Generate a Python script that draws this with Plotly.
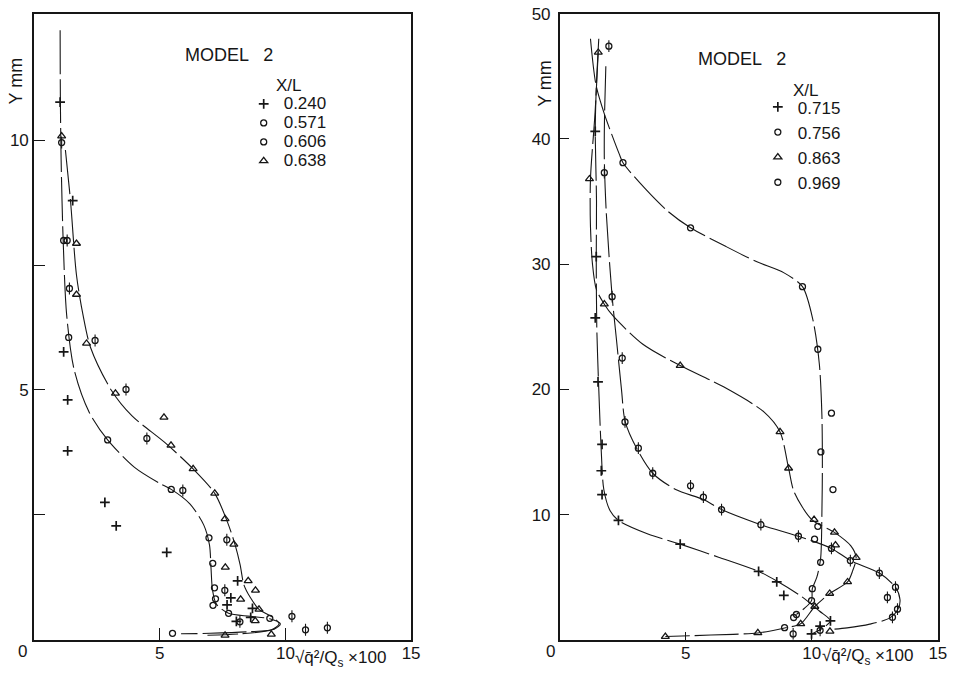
import plotly.graph_objects as go

# ---------------- LEFT PANEL (MODEL 2) ----------------
# X/L = 0.240  (+)
L240_x = [1.04, 1.54, 1.18, 1.34, 1.34, 2.82, 3.27, 5.28, 8.10, 7.83, 7.68, 8.69, 8.62, 8.05]
L240_y = [10.76, 8.79, 5.76, 4.80, 3.78, 2.75, 2.28, 1.75, 1.18, 0.84, 0.70, 0.63, 0.45, 0.37]
# X/L = 0.571  (o)
L571_x = [1.18, 1.38, 2.93, 5.46, 6.96, 7.11, 7.18, 7.22, 7.12, 7.74, 9.38, 5.51]
L571_y = [7.99, 6.05, 4.00, 3.01, 2.04, 1.53, 1.04, 0.82, 0.69, 0.53, 0.43, 0.13]
# X/L = 0.606  (circle with stem)
L606_x = [1.10, 1.32, 1.41, 2.43, 3.66, 4.49, 5.92, 7.67, 7.59, 8.19, 10.26, 10.80, 11.67]
L606_y = [9.95, 7.99, 7.03, 5.99, 5.01, 4.03, 2.99, 2.00, 0.99, 0.36, 0.47, 0.20, 0.24]
# X/L = 0.638  (triangle)
L638_x = [1.10, 1.69, 1.69, 2.09, 3.24, 5.17, 5.45, 6.33, 7.19, 7.60, 7.95, 7.61, 8.52, 8.81,
          8.22, 8.95, 8.80, 7.60, 9.44]
L638_y = [10.08, 7.93, 6.91, 5.93, 4.93, 4.45, 3.89, 3.42, 2.93, 2.42, 1.91, 1.45, 1.18, 0.99,
          0.81, 0.61, 0.38, 0.09, 0.11]

# faired curves
L571_fit_x = [1.04, 1.05, 1.08, 1.16, 1.30, 1.60, 2.20, 2.93, 4.00, 5.00, 5.46, 6.20, 6.75, 6.98,
              7.04, 7.10, 7.25, 7.74, 8.60, 9.38, 9.80, 9.55, 8.50, 7.00, 5.85]
L571_fit_y = [12.2, 10.8, 9.6, 8.0, 6.5, 5.4, 4.55, 4.00, 3.45, 3.13, 3.01, 2.72, 2.30, 1.90,
              1.45, 1.00, 0.72, 0.53, 0.47, 0.42, 0.32, 0.21, 0.16, 0.13, 0.12]
L638_fit_x = [1.25, 1.45, 1.69, 1.95, 2.25, 3.07, 3.90, 5.20, 6.33, 7.19, 7.70, 8.00, 8.20, 8.35,
              8.60, 8.95, 9.50, 9.75, 9.45, 8.20, 6.90]
L638_fit_y = [9.8, 8.8, 7.3, 6.5, 5.85, 5.0, 4.48, 3.95, 3.42, 2.93, 2.35, 1.90, 1.50, 1.10,
              0.85, 0.61, 0.45, 0.32, 0.20, 0.12, 0.09]

# ---------------- RIGHT PANEL (MODEL 2) ----------------
# X/L = 0.715  (+)
R715_x = [1.41, 1.45, 1.41, 1.52, 1.68, 1.65, 1.68, 2.33, 4.78, 7.89, 8.61, 8.89, 10.74, 9.99, 10.33]
R715_y = [40.6, 30.6, 25.7, 20.6, 15.6, 13.5, 11.6, 9.53, 7.64, 5.46, 4.62, 3.55, 1.52, 0.47, 1.10]
# X/L = 0.756  (circle with stem)
R756_x = [1.95, 1.77, 2.08, 2.48, 2.59, 3.12, 3.69, 5.19, 5.70, 6.42, 7.98, 9.47, 10.78, 11.53,
          12.68, 13.32, 13.00, 13.40, 13.20, 9.26, 10.33]
R756_y = [47.4, 37.3, 27.4, 22.5, 17.4, 15.3, 13.3, 12.3, 11.4, 10.4, 9.19, 8.27, 7.30, 6.33,
          5.33, 4.20, 3.38, 2.45, 1.80, 0.47, 0.76]
# X/L = 0.863  (triangle)
R863_x = [1.53, 1.18, 1.77, 4.78, 8.74, 9.08, 10.09, 10.90, 10.94, 11.76, 11.42, 10.71, 10.12,
          9.56, 10.72, 7.86, 4.19]
R863_y = [46.9, 36.8, 26.8, 21.9, 16.6, 13.7, 9.6, 8.58, 7.56, 6.56, 4.62, 3.70, 2.66,
          1.28, 0.68, 0.55, 0.26]
# X/L = 0.969  (o)
R969_x = [2.51, 5.19, 9.63, 10.24, 10.78, 10.36, 10.84, 10.24, 10.11, 10.35, 10.02, 9.99, 9.39,
          9.28, 8.92]
R969_y = [38.1, 32.9, 28.2, 23.2, 18.1, 15.0, 12.0, 9.06, 8.04, 6.19, 4.08, 3.13, 2.02,
          1.78, 0.97]

R715_fit_x = [1.55, 1.45, 1.41, 1.46, 1.45, 1.47, 1.55, 1.65, 1.75, 2.00, 2.33, 3.50, 4.78, 6.30,
              7.89, 8.61, 9.60, 10.30, 10.74, 10.45, 10.00]
R715_fit_y = [48.0, 44.0, 40.6, 35.0, 30.6, 25.0, 20.0, 15.0, 12.0, 10.3, 9.53, 8.45, 7.64, 6.60,
              5.46, 4.70, 3.45, 2.30, 1.52, 0.95, 0.47]
R756_fit_x = [1.83, 1.78, 1.77, 1.85, 2.08, 2.25, 2.45, 2.60, 3.05, 3.69, 4.60, 5.70, 6.42, 7.98,
              9.47, 10.78, 11.53, 12.68, 13.32, 13.50, 13.43, 13.10, 12.30, 11.40, 10.90]
R756_fit_y = [45.8, 42.0, 38.4, 34.0, 27.4, 24.0, 20.0, 17.4, 15.3, 13.3, 12.0, 11.2, 10.4, 9.19,
              8.27, 7.30, 6.33, 5.33, 4.20, 3.20, 2.49, 1.75, 1.25, 0.95, 0.85]
R863_fit_x = [1.53, 1.40, 1.22, 1.22, 1.30, 1.45, 1.77, 2.10, 3.30, 4.78, 6.50, 8.10, 8.74, 9.08,
              9.30, 10.00, 10.90, 11.55, 11.76, 11.62, 11.42, 10.71, 10.12, 9.56, 8.92, 7.86,
              6.00, 4.19]
R863_fit_y = [47.0, 42.0, 36.8, 33.0, 30.0, 28.0, 26.8, 25.9, 23.6, 21.9, 20.2, 18.2, 16.6, 13.7,
              11.8, 9.6, 8.58, 7.5, 6.56, 5.5, 4.62, 3.70, 2.66, 1.28, 0.95, 0.55, 0.38, 0.26]
R969_fit_x = [1.22, 1.44, 1.77, 2.36, 2.51, 3.40, 4.30, 5.19, 6.60, 7.80, 8.90, 9.63, 10.05, 10.30,
              10.40, 10.42, 10.40, 10.35, 10.20, 10.02, 9.99, 9.70, 9.39]
R969_fit_y = [48.0, 44.3, 42.0, 38.8, 38.1, 36.0, 34.2, 32.9, 31.4, 30.2, 29.3, 28.2, 25.5, 22.0,
              18.0, 14.0, 10.0, 6.5, 5.0, 4.08, 3.13, 2.50, 2.02]

# axis ticks
X_TICKS = [5, 10, 15]
L_Y_TICKS = [5, 10]
L_Y_MINOR = [2.5, 7.5]
R_Y_TICKS = [10, 20, 30, 40, 50]

INK = "#161616"
FONT = "Liberation Sans, Arial, sans-serif"

SYMBOLS = {"plus": "cross-thin-open", "circle": "circle-open", "phi": "circle-open",
           "tri": "triangle-up-open"}
SIZES = {"plus": 7, "circle": 6, "phi": 6, "tri": 7}
WIDTHS = {"plus": 1.7, "circle": 1.3, "phi": 1.3, "tri": 1.3}

fig = go.Figure()


def add_fit(x, y, xa, ya):
    fig.add_trace(go.Scatter(x=x, y=y, mode="lines", xaxis=xa, yaxis=ya, showlegend=False,
                             hoverinfo="skip",
                             line=dict(color=INK, width=1.1, dash="44px,5px",
                                       shape="spline", smoothing=0.8)))


def add_points(x, y, name, kind, xa, ya, legend, stem=None):
    tr = dict(x=x, y=y, mode="markers", name=name, xaxis=xa, yaxis=ya, legend=legend,
              marker=dict(symbol=SYMBOLS[kind], size=SIZES[kind], color=INK,
                          line=dict(color=INK, width=WIDTHS[kind])))
    if stem is not None:
        tr["error_y"] = dict(type="constant", value=stem, width=0, thickness=1.1, color=INK)
    fig.add_trace(go.Scatter(**tr))


add_fit(L571_fit_x, L571_fit_y, "x", "y")
add_fit(L638_fit_x, L638_fit_y, "x", "y")
add_fit(R715_fit_x, R715_fit_y, "x2", "y2")
add_fit(R756_fit_x, R756_fit_y, "x2", "y2")
add_fit(R863_fit_x, R863_fit_y, "x2", "y2")
add_fit(R969_fit_x, R969_fit_y, "x2", "y2")

big = "<span style='font-size:17px'>%s</span>"
add_points(L240_x, L240_y, big % "0.240", "plus", "x", "y", "legend")
add_points(L571_x, L571_y, big % "0.571", "circle", "x", "y", "legend")
add_points(L606_x, L606_y, big % "0.606", "phi", "x", "y", "legend", stem=0.12)
add_points(L638_x, L638_y, big % "0.638", "tri", "x", "y", "legend")

add_points(R715_x, R715_y, "0.715", "plus", "x2", "y2", "legend2")
add_points(R756_x, R756_y, "0.756", "phi", "x2", "y2", "legend2", stem=0.47)
add_points(R863_x, R863_y, "0.863", "tri", "x2", "y2", "legend2")
add_points(R969_x, R969_y, "0.969", "circle", "x2", "y2", "legend2")

W, H = 961, 678
ydom = [38.7 / H, 673.3 / H]

common_axis = dict(showline=True, mirror=True, linecolor=INK, linewidth=1.5, showgrid=False,
                   zeroline=False, ticks="inside", tickcolor=INK, tickwidth=1.2,
                   ticklabeloverflow="allow",
                   tickfont=dict(size=17, family=FONT, color=INK))

fig.update_layout(
    width=W, height=H, margin=dict(l=0, r=0, t=0, b=0),
    paper_bgcolor="white", plot_bgcolor="white",
    font=dict(family=FONT, size=17, color=INK),
    showlegend=True,
    xaxis=dict(domain=[34.3 / W, 415 / W], range=[0, 15], anchor="y", tickvals=X_TICKS,
               ticktext=[str(v) for v in X_TICKS], ticklen=12, ticklabelstandoff=-3,
               **common_axis),
    yaxis=dict(domain=ydom, range=[0, 12.53], anchor="x", tickvals=L_Y_TICKS,
               ticktext=[str(v) for v in L_Y_TICKS], ticklen=11,
               minor=dict(tickvals=L_Y_MINOR, ticks="inside", ticklen=11, tickwidth=1.2,
                          tickcolor=INK, showgrid=False),
               **common_axis),
    xaxis2=dict(domain=[565 / W, 946.7 / W], range=[0, 15], anchor="y2", tickvals=X_TICKS,
                ticktext=[str(v) for v in X_TICKS], ticklen=8, ticklabelstandoff=-3,
                **common_axis),
    yaxis2=dict(domain=ydom, range=[0, 50], anchor="x2", tickvals=R_Y_TICKS,
                ticktext=[str(v) for v in R_Y_TICKS], ticklen=10, ticklabelstandoff=4,
                **common_axis),
    legend=dict(x=246 / W, y=(H - 81.5) / H, xanchor="left", yanchor="top",
                font=dict(size=12, family=FONT, color=INK), bgcolor="rgba(0,0,0,0)",
                borderwidth=0),
    legend2=dict(x=765 / W, y=(H - 81.5) / H, xanchor="left", yanchor="top",
                 font=dict(size=17, family=FONT, color=INK), bgcolor="rgba(0,0,0,0)",
                 borderwidth=0),
)


def note(text, px, py, size=17, xanchor="center", angle=0):
    fig.add_annotation(text=text, x=px / W, y=(H - py) / H, xref="paper", yref="paper",
                       showarrow=False, xanchor=xanchor, yanchor="middle", textangle=angle,
                       font=dict(size=size, family=FONT, color=INK))


xtitle = "\u221Aq\u0304\u00B2/Q<sub>s</sub> \u00D7100"
for ox, mx, my, lx, ly, yx, yy, tx, ty, zx in [
        (0, 231, 47, 292, 78, 16.5, 73, 296, 659, 22.7),
        (1, 749, 51, 814, 83, 550, 75, 828, 657, 556)]:
    note("MODEL   2", mx, my, size=18)
    note("X/L", lx, ly)
    note("Y mm", yx, yy, size=18, angle=-90)
    note(xtitle, tx, ty, size=17, xanchor="left")
    note("0", zx, 651.5)

fig.write_html("out.html", config={"displayModeBar": False},
               post_script="document.body.style.margin='0px';"
                           "document.body.style.overflow='hidden';")
